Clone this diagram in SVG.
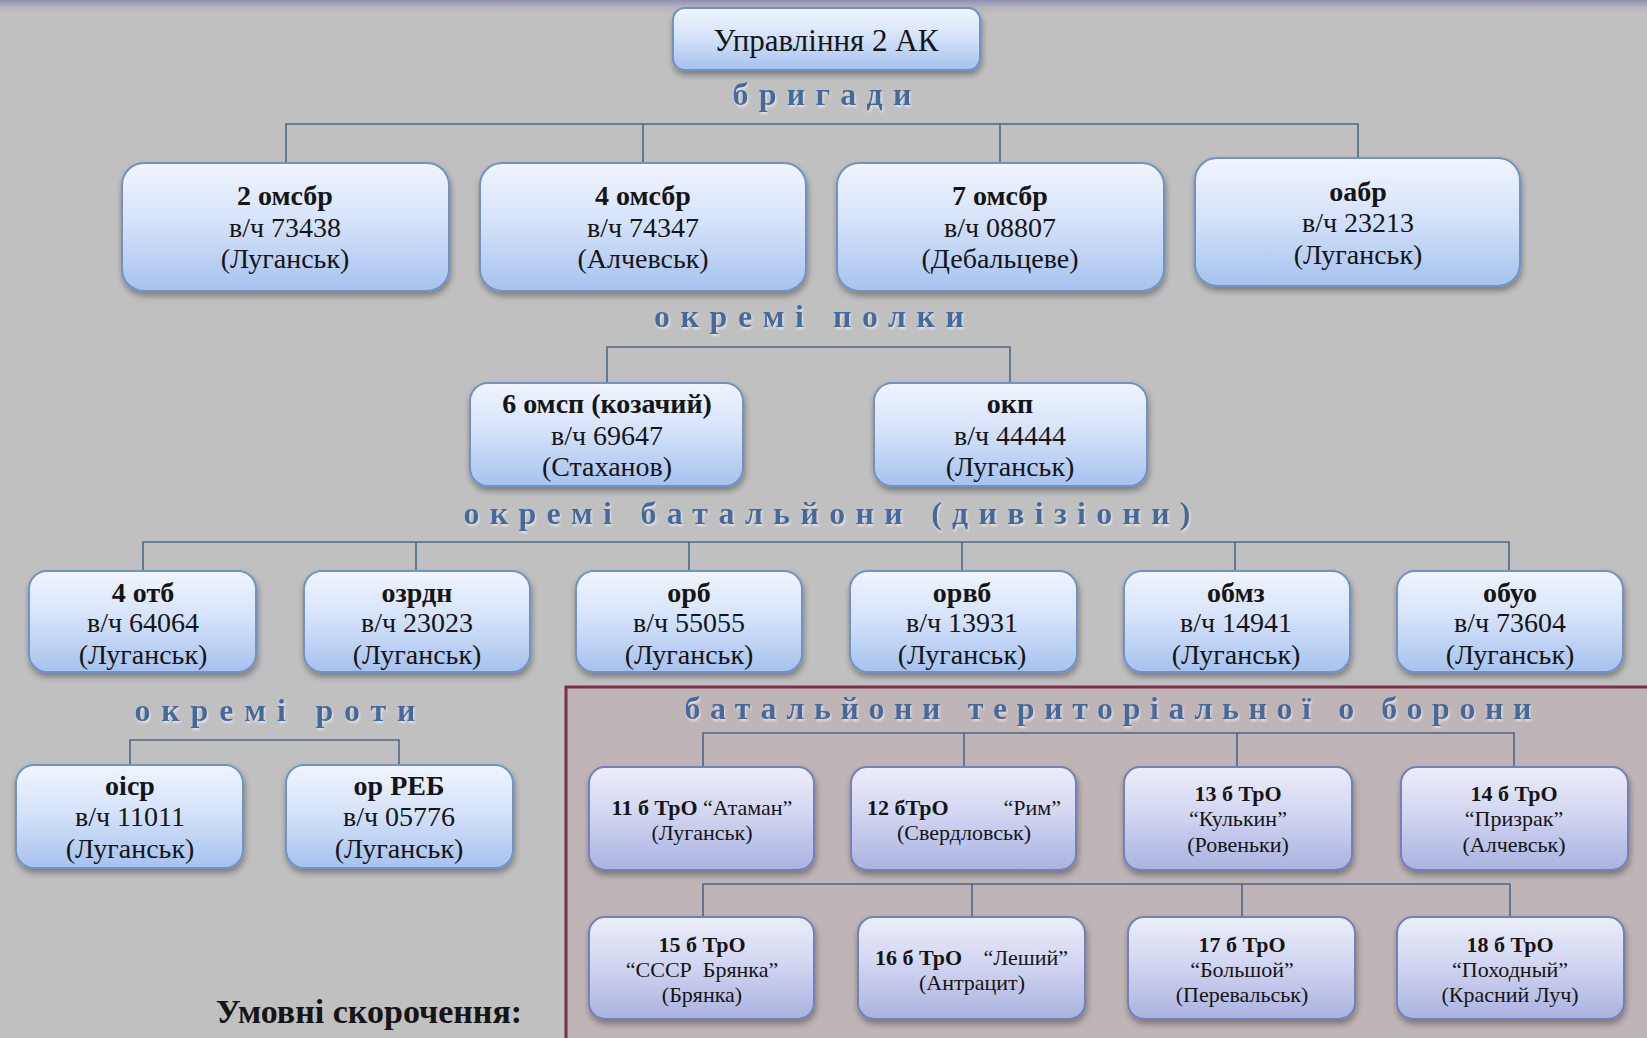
<svg xmlns="http://www.w3.org/2000/svg" width="1647" height="1038" viewBox="0 0 1647 1038">
<defs>
<linearGradient id="topband" x1="0" y1="0" x2="0" y2="1">
<stop offset="0" stop-color="#8d8fb2"/>
<stop offset="0.5" stop-color="#b5b3be"/>
<stop offset="1" stop-color="#c0c0c0"/>
</linearGradient>
<linearGradient id="blue" x1="0" y1="0" x2="0" y2="1">
<stop offset="0" stop-color="#f0f5fe"/>
<stop offset="0.45" stop-color="#d6e3fa"/>
<stop offset="1" stop-color="#a6c2ee"/>
</linearGradient>
<linearGradient id="lav" x1="0" y1="0" x2="0" y2="1">
<stop offset="0" stop-color="#eceef9"/>
<stop offset="0.45" stop-color="#d2d6f1"/>
<stop offset="1" stop-color="#aab2e0"/>
</linearGradient>
<filter id="sh" x="-10%" y="-10%" width="125%" height="135%">
<feDropShadow dx="1" dy="4" stdDeviation="3" flood-color="#000" flood-opacity="0.35"/>
</filter>
<filter id="tsh" x="-5%" y="-20%" width="110%" height="150%">
<feDropShadow dx="1" dy="2" stdDeviation="1.2" flood-color="#ffffff" flood-opacity="0.6"/>
</filter>
</defs>
<style>
.box{fill:url(#blue);stroke:#7292c4;stroke-width:2;filter:url(#sh)}
.tro{fill:url(#lav);stroke:#7480b6;stroke-width:2;filter:url(#sh)}
.conn{fill:none;stroke:#4f6688;stroke-width:1.6}
.t{font-family:"Liberation Serif","Times New Roman",serif;font-size:28px;fill:#151515;text-anchor:middle}
.hq{font-size:31px}
.b{font-weight:bold}
.s{font-family:"Liberation Serif","Times New Roman",serif;font-size:22px;fill:#151515;text-anchor:middle}
.lbl{font-family:"Liberation Serif","Times New Roman",serif;font-size:32px;font-weight:bold;fill:#45699a;text-anchor:middle;filter:url(#tsh)}
</style>
<rect x="0" y="0" width="1647" height="1038" fill="#c0c0c0"/>
<rect x="0" y="0" width="1647" height="14" fill="url(#topband)"/>
<rect x="566" y="687" width="1090" height="360" fill="#bfb4b6" stroke="#7d2c4c" stroke-width="3"/>

<g id="connectors">
<path class="conn" d="M286 163V124H1358V158M643 124V163M1000 124V163"/>
<path class="conn" d="M607 383V347H1010V383"/>
<path class="conn" d="M143 571V542H1509V571M416 542V571M689 542V571M962 542V571M1235 542V571"/>
<path class="conn" d="M130 765V740H399V765"/>
<path class="conn" d="M703 767V733H1514V767M964 733V767M1237 733V767"/>
<path class="conn" d="M703 917V884H1510V917M972 884V917M1242 884V917"/>
</g>

<g id="labels">
<text class="lbl" x="822" y="105" textLength="179" lengthAdjust="spacing">бригади</text>
<text class="lbl" x="809" y="327" textLength="310" lengthAdjust="spacing">окремі  полки</text>
<text class="lbl" x="827" y="524" textLength="727" lengthAdjust="spacing">окремі  батальйони  (дивізіони)</text>
<text class="lbl" x="275" y="721" textLength="281" lengthAdjust="spacing">окремі  роти</text>
<text class="lbl" x="1108" y="719" textLength="847" lengthAdjust="spacing">батальйони  територіальної о борони</text>
<text x="369" y="1023" font-family="'Liberation Serif','Times New Roman',serif" font-size="34" font-weight="bold" fill="#151515" text-anchor="middle">Умовні скорочення:</text>
</g>

<g id="n-hq"><rect class="box" x="673" y="8" width="307" height="62" rx="12"/><text class="t hq" x="826" y="51">Управління 2 АК</text></g>

<g id="n-2omsbr"><rect class="box" x="122" y="163" width="327" height="128" rx="22"/>
<text class="t" x="285" y="205"><tspan class="b">2 омсбр</tspan><tspan x="285" dy="32">в/ч 73438</tspan><tspan x="285" dy="31">(Луганськ)</tspan></text></g>
<g id="n-4omsbr"><rect class="box" x="480" y="163" width="326" height="128" rx="22"/>
<text class="t" x="643" y="205"><tspan class="b">4 омсбр</tspan><tspan x="643" dy="32">в/ч 74347</tspan><tspan x="643" dy="31">(Алчевськ)</tspan></text></g>
<g id="n-7omsbr"><rect class="box" x="837" y="163" width="327" height="128" rx="22"/>
<text class="t" x="1000" y="205"><tspan class="b">7 омсбр</tspan><tspan x="1000" dy="32">в/ч 08807</tspan><tspan x="1000" dy="31">(Дебальцеве)</tspan></text></g>
<g id="n-oabr"><rect class="box" x="1195" y="158" width="325" height="128" rx="22"/>
<text class="t" x="1358" y="201"><tspan class="b">оабр</tspan><tspan x="1358" dy="31">в/ч 23213</tspan><tspan x="1358" dy="32">(Луганськ)</tspan></text></g>

<g id="n-6omsp"><rect class="box" x="470" y="383" width="273" height="103" rx="18"/>
<text class="t" x="607" y="413"><tspan class="b">6 омсп (козачий)</tspan><tspan x="607" dy="32">в/ч 69647</tspan><tspan x="607" dy="31">(Стаханов)</tspan></text></g>
<g id="n-okp"><rect class="box" x="874" y="383" width="273" height="103" rx="18"/>
<text class="t" x="1010" y="413"><tspan class="b">окп</tspan><tspan x="1010" dy="32">в/ч 44444</tspan><tspan x="1010" dy="31">(Луганськ)</tspan></text></g>

<g id="n-4otb"><rect class="box" x="29" y="571" width="227" height="101" rx="18"/>
<text class="t" x="143" y="602"><tspan class="b">4 отб</tspan><tspan x="143" dy="30">в/ч 64064</tspan><tspan x="143" dy="32">(Луганськ)</tspan></text></g>
<g id="n-ozrdn"><rect class="box" x="304" y="571" width="226" height="101" rx="18"/>
<text class="t" x="417" y="602"><tspan class="b">озрдн</tspan><tspan x="417" dy="30">в/ч 23023</tspan><tspan x="417" dy="32">(Луганськ)</tspan></text></g>
<g id="n-orb"><rect class="box" x="576" y="571" width="226" height="101" rx="18"/>
<text class="t" x="689" y="602"><tspan class="b">орб</tspan><tspan x="689" dy="30">в/ч 55055</tspan><tspan x="689" dy="32">(Луганськ)</tspan></text></g>
<g id="n-orvb"><rect class="box" x="850" y="571" width="227" height="101" rx="18"/>
<text class="t" x="962" y="602"><tspan class="b">орвб</tspan><tspan x="962" dy="30">в/ч 13931</tspan><tspan x="962" dy="32">(Луганськ)</tspan></text></g>
<g id="n-obmz"><rect class="box" x="1124" y="571" width="226" height="101" rx="18"/>
<text class="t" x="1236" y="602"><tspan class="b">обмз</tspan><tspan x="1236" dy="30">в/ч 14941</tspan><tspan x="1236" dy="32">(Луганськ)</tspan></text></g>
<g id="n-obuo"><rect class="box" x="1397" y="571" width="226" height="101" rx="18"/>
<text class="t" x="1510" y="602"><tspan class="b">обуо</tspan><tspan x="1510" dy="30">в/ч 73604</tspan><tspan x="1510" dy="32">(Луганськ)</tspan></text></g>

<g id="n-oisr"><rect class="box" x="16" y="765" width="227" height="103" rx="18"/>
<text class="t" x="130" y="795"><tspan class="b">оіср</tspan><tspan x="130" dy="31">в/ч 11011</tspan><tspan x="130" dy="32">(Луганськ)</tspan></text></g>
<g id="n-orreb"><rect class="box" x="286" y="765" width="227" height="103" rx="18"/>
<text class="t" x="399" y="795"><tspan class="b">ор РЕБ</tspan><tspan x="399" dy="31">в/ч 05776</tspan><tspan x="399" dy="32">(Луганськ)</tspan></text></g>

<g id="n-11"><rect class="tro" x="589" y="767" width="225" height="103" rx="16"/>
<text class="s" x="702" y="815"><tspan class="b">11 б ТрО </tspan><tspan>“Атаман”</tspan><tspan x="702" dy="25">(Луганськ)</tspan></text></g>
<g id="n-12"><rect class="tro" x="851" y="767" width="225" height="103" rx="16"/>
<text class="s" x="964" y="815"><tspan class="b" x="867" text-anchor="start">12 бТрО</tspan><tspan x="1061" text-anchor="end">“Рим”</tspan><tspan x="964" dy="25">(Свердловськ)</tspan></text></g>
<g id="n-13"><rect class="tro" x="1124" y="767" width="228" height="103" rx="16"/>
<text class="s" x="1238" y="801"><tspan class="b">13 б ТрО</tspan><tspan x="1238" dy="25">“Кулькин”</tspan><tspan x="1238" dy="26">(Ровеньки)</tspan></text></g>
<g id="n-14"><rect class="tro" x="1401" y="767" width="227" height="103" rx="16"/>
<text class="s" x="1514" y="801"><tspan class="b">14 б ТрО</tspan><tspan x="1514" dy="25">“Призрак”</tspan><tspan x="1514" dy="26">(Алчевськ)</tspan></text></g>

<g id="n-15"><rect class="tro" x="589" y="917" width="225" height="102" rx="16"/>
<text class="s" x="702" y="952"><tspan class="b">15 б ТрО</tspan><tspan x="702" dy="25" xml:space="preserve">“СССР  Брянка”</tspan><tspan x="702" dy="25">(Брянка)</tspan></text></g>
<g id="n-16"><rect class="tro" x="858" y="917" width="227" height="102" rx="16"/>
<text class="s" x="972" y="965"><tspan class="b" x="875" text-anchor="start">16 б ТрО</tspan><tspan x="1068" text-anchor="end">“Леший”</tspan><tspan x="972" dy="25">(Антрацит)</tspan></text></g>
<g id="n-17"><rect class="tro" x="1128" y="917" width="227" height="102" rx="16"/>
<text class="s" x="1242" y="952"><tspan class="b">17 б ТрО</tspan><tspan x="1242" dy="25">“Большой”</tspan><tspan x="1242" dy="25">(Перевальськ)</tspan></text></g>
<g id="n-18"><rect class="tro" x="1397" y="917" width="227" height="102" rx="16"/>
<text class="s" x="1510" y="952"><tspan class="b">18 б ТрО</tspan><tspan x="1510" dy="25">“Походный”</tspan><tspan x="1510" dy="25">(Красний Луч)</tspan></text></g>
</svg>
